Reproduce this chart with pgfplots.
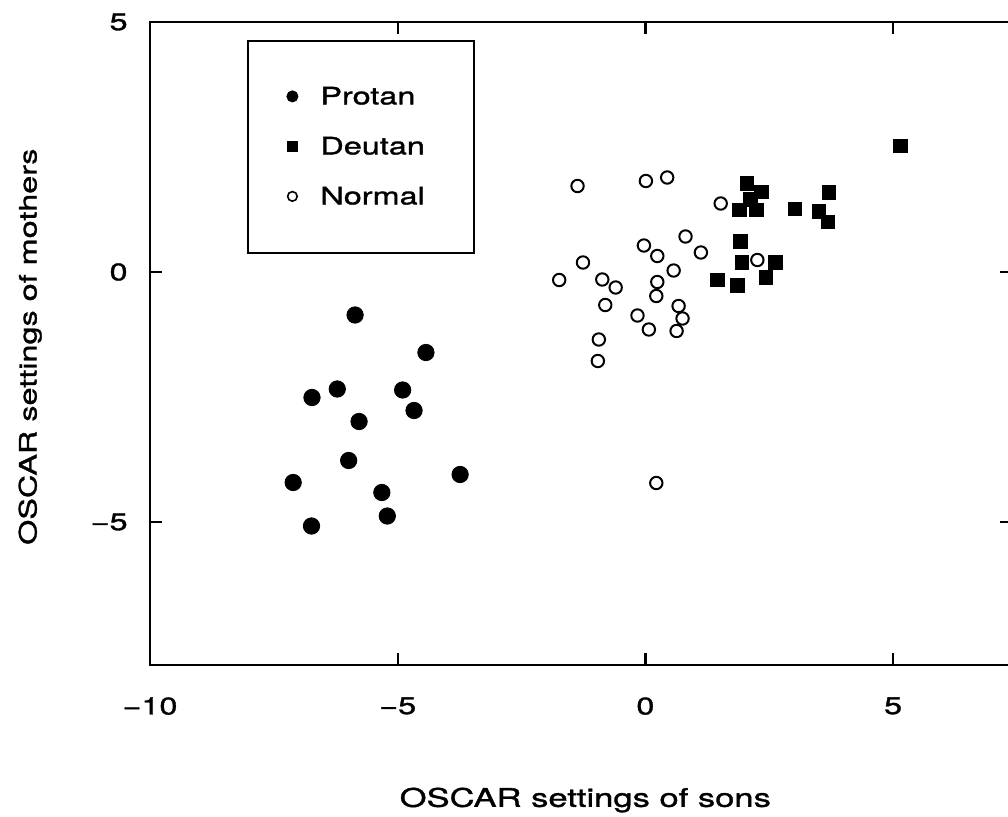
\documentclass[border=0pt]{standalone}
\usepackage{fontspec}
\setmainfont[FakeStretch=1.35,FakeBold=1.3]{TeX Gyre Heros}
\usepackage{pgfplots}
\pgfplotsset{compat=1.18}
\usetikzlibrary{calc}

\begin{document}
\fontsize{12}{14}\selectfont
\begin{tikzpicture}
\begin{axis}[name=ax, scale only axis, width=431pt, height=321.5pt,
  xmin=-10, xmax=7.4, ymin=-7.86, ymax=5,
  xtick={-10,-5,0,5}, xticklabels={−10,−5,0,5},
  ytick={-5,0,5}, yticklabels={−5,0,5},
  tick align=inside, major tick length=6pt,
  axis line style={line width=1.1pt},
  every tick/.style={black,line width=1.1pt},
  xticklabel style={yshift=-12pt}, yticklabel style={xshift=-7pt},
  tick label style={font=\fontsize{12}{14}\selectfont},
  ylabel style={font=\fontsize{12}{14}\selectfont},
  xlabel style={font=\fontsize{12.8}{14}\selectfont},
  xlabel={OSCAR settings of sons}, ylabel={OSCAR settings of mothers},
  xlabel style={at={(axis description cs:0.505,-0.21)},anchor=center},
  ylabel style={at={(axis description cs:-0.139,0.495)},anchor=center},
  legend style={draw=none, fill=none, inner sep=0pt,
    at={(axis description cs:0.1578,0.9005)}, anchor=north west,
    font=\fontsize{12}{14}\selectfont, row sep=13pt, column sep=11pt,
    nodes={inner sep=0pt, text height=9pt, text depth=3pt, anchor=base west}},
  legend cell align=left,
  legend image code/.code={\path[draw=none,fill=none] (0pt,-3pt) rectangle (6pt,9pt);
    \draw[#1] plot coordinates {(3pt,4pt)};},
]
% Protan
\addplot[only marks, mark=*, mark size=4.1pt, black,
  legend image post style={mark size=2.8pt}] coordinates {
  (-5.86,-0.86) (-4.43,-1.61) (-6.22,-2.34) (-6.73,-2.51) (-4.90,-2.36)
  (-4.67,-2.77) (-5.78,-2.99) (-5.99,-3.77) (-3.74,-4.05) (-7.11,-4.21)
  (-5.32,-4.41) (-5.21,-4.88) (-6.74,-5.08)};
\addlegendentry{Protan}
% Deutan
\addplot[only marks, mark=square*, mark size=3.4pt, black,
  legend image post style={mark size=2.5pt}] coordinates {
  (2.05,1.77) (2.34,1.60) (2.12,1.45) (1.90,1.24) (2.24,1.24)
  (3.02,1.26) (3.70,1.59) (3.50,1.21) (3.68,1.00) (1.92,0.61)
  (1.95,0.19) (2.63,0.19) (2.43,-0.11) (1.45,-0.16) (1.86,-0.27)
  (5.15,2.52)};
\addlegendentry{Deutan}
% Normal
\addplot[only marks, mark=*, mark size=3.1pt,
  mark options={fill=white, draw=black, line width=1pt},
  legend image post style={mark size=2.4pt, mark options={fill=white, draw=black, line width=0.8pt}}] coordinates {
  (-1.37,1.72) (0.01,1.82) (0.44,1.89) (1.52,1.37) (-0.03,0.53)
  (0.24,0.32) (0.81,0.71) (1.12,0.39) (-1.26,0.19) (-1.74,-0.16)
  (-0.87,-0.15) (-0.60,-0.31) (0.57,0.03) (0.24,-0.20) (0.22,-0.48)
  (-0.81,-0.66) (0.67,-0.68) (0.75,-0.93) (-0.16,-0.87) (0.07,-1.15)
  (0.63,-1.18) (-0.94,-1.35) (-0.96,-1.78) (2.26,0.24) (0.22,-4.22)};
\addlegendentry{Normal}
\draw[line width=1pt] (axis description cs:0.1137,0.6407) rectangle (axis description cs:0.3759,0.9705);
\end{axis}
\pgfresetboundingbox
\path[use as bounding box] ($(ax.south west)+(-75pt,-75.5pt)$) rectangle ($(ax.south west)+(429pt,332.5pt)$);
\end{tikzpicture}
\end{document}
